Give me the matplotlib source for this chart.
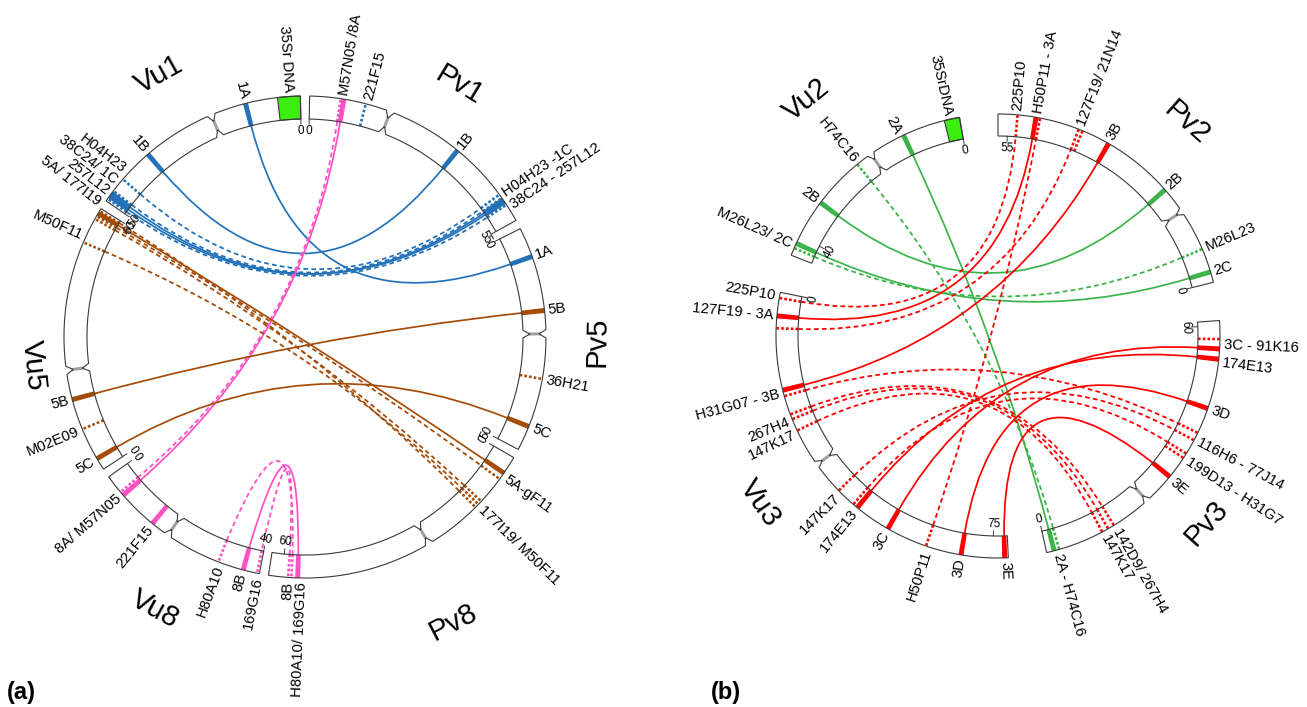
import numpy as np
import matplotlib.pyplot as plt
from matplotlib.path import Path
from matplotlib.patches import PathPatch, Polygon

plt.rcParams['font.family'] = ['Liberation Sans', 'DejaVu Sans']

# ---------------- panel (a) ----------------
chroms_a = ['Pv1', 'Pv5', 'Pv8', 'Vu8', 'Vu5', 'Vu1']
lengths_a = [55, 50, 63, 40, 60, 50]
centromeres_a = [18, 23.8, 26.6, 18.2, 23.2, 20]
tick_values_a = [55, 50, 60, 40, 60, 50]
rdna_a = ['Vu1', 0, 5]

# (chrom1, pos1, chrom2, pos2, linkage group, kind)
links_a = [
    ('Vu1', 12.1, 'Pv5', 6.6, '1', 'solid'),
    ('Vu1', 36.3, 'Pv1', 35.0, '1', 'solid'),
    ('Vu1', 44.0, 'Pv1', 48.3, '1', 'dotted'),
    ('Vu1', 47.3, 'Pv1', 49.2, '1', 'dotted'),
    ('Vu1', 48.0, 'Pv1', 50.2, '1', 'solid'),
    ('Vu1', 48.7, 'Pv1', 49.7, '1', 'solid'),
    ('Vu1', 49.4, 'Pv1', 51.0, '1', 'dotted'),
    ('Pv1', 7.5, 'Vu8', 5.1, '8', 'solid'),
    ('Pv1', 6.8, 'Vu8', 4.2, '8', 'dotted'),
    ('Pv8', 56.6, 'Vu8', 36.4, '8', 'solid'),
    ('Pv8', 58.0, 'Vu8', 30.7, '8', 'dotted'),
    ('Pv8', 58.7, 'Vu8', 39.5, '8', 'dotted'),
    ('Vu5', 16.7, 'Pv5', 18.7, '5', 'solid'),
    ('Vu5', 2.7, 'Pv5', 44.5, '5', 'solid'),
    ('Vu5', 58.8, 'Pv8', 4.0, '5', 'solid'),
    ('Vu5', 58.1, 'Pv8', 5.6, '5', 'dotted'),
    ('Vu5', 57.4, 'Pv8', 11.9, '5', 'dotted'),
    ('Vu5', 51.7, 'Pv8', 12.8, '5', 'dotted'),
    ('Vu5', 59.4, 'Pv8', 13.7, '5', 'dotted'),
]
marks_a = [
    ('Pv1', 12.4, '1', 'dotted'),
    ('Pv5', 33.7, '5', 'dotted'),
    ('Vu5', 9.9, '5', 'dotted'),
    ('Vu8', 14.0, '8', 'solid'),
]
labels_a = [
    ('Pv1', 7.5, 'M57N05 /8A'), ('Pv1', 12.7, '221F15'), ('Pv1', 35.0, '1B'),
    ('Pv1', 50.2, 'H04H23 -1C\n38C24 - 257L12'),
    ('Pv5', 6.6, '1A'), ('Pv5', 18.7, '5B'), ('Pv5', 33.7, '36H21'), ('Pv5', 44.5, '5C'),
    ('Pv8', 4.8, '5A-gF11'), ('Pv8', 13.0, '177I19/ M50F11'),
    ('Pv8', 57.2, '8B\nH80A10/ 169G16'),
    ('Vu8', 5.0, '8A/ M57N05'), ('Vu8', 14.2, '221F15'), ('Vu8', 31.3, 'H80A10'),
    ('Vu8', 36.4, '8B'), ('Vu8', 39.8, '169G16'),
    ('Vu5', 2.7, '5C'), ('Vu5', 9.9, 'M02E09'), ('Vu5', 16.7, '5B'), ('Vu5', 52.7, 'M50F11'),
    ('Vu1', 2.5, '35Sr DNA'), ('Vu1', 12.1, '1A'), ('Vu1', 36.3, '1B'),
    ('Vu1', 46.8, 'H04H23\n38C24/ 1C\n257L12\n5A/ 177I19'),
]

# ---------------- panel (b) ----------------
chroms_b = ['Pv2', 'Pv3', 'Vu3', 'Vu2']
lengths_b = [57, 61, 78, 44]
centromeres_b = [15.1, 22.1, 35, 18.7]
tick_values_b = [55, 60, 75, 40]
rdna_b = ['Vu2', 0, 3]

links_b = [
    ('Vu2', 11.4, 'Pv3', 1.5, '2', 'solid'),
    ('Vu2', 22.0, 'Pv3', 2.5, '2', 'dotted'),
    ('Vu2', 32.3, 'Pv2', 20.4, '2', 'solid'),
    ('Vu2', 41.5, 'Pv2', 2.1, '2', 'solid'),
    ('Vu2', 42.5, 'Pv2', 6.8, '2', 'dotted'),
    ('Vu3', 1.1, 'Pv2', 53.2, '3', 'dotted'),
    ('Vu3', 4.6, 'Pv2', 49.6, '3', 'solid'),
    ('Vu3', 7.0, 'Pv2', 41.0, '3', 'dotted'),
    ('Vu3', 19.1, 'Pv2', 34.6, '3', 'solid'),
    ('Vu3', 61.8, 'Pv2', 48.8, '3', 'dotted'),
    ('Vu3', 20.3, 'Pv3', 38.6, '3', 'dotted'),
    ('Vu3', 24.0, 'Pv3', 14.1, '3', 'dotted'),
    ('Vu3', 25.0, 'Pv3', 12.8, '3', 'dotted'),
    ('Vu3', 27.4, 'Pv3', 11.5, '3', 'dotted'),
    ('Vu3', 41.6, 'Pv3', 37.0, '3', 'dotted'),
    ('Vu3', 45.5, 'Pv3', 34.0, '3', 'dotted'),
    ('Vu3', 46.5, 'Pv3', 53.5, '3', 'solid'),
    ('Vu3', 53.7, 'Pv3', 55.5, '3', 'solid'),
    ('Vu3', 68.8, 'Pv3', 43.7, '3', 'solid'),
    ('Vu3', 77.3, 'Pv3', 28.5, '3', 'solid'),
]
marks_b = [
    ('Pv2', 40.2, '3', 'dotted'),
    ('Pv3', 57.4, '3', 'dotted'),
    ('Pv3', 33.0, '3', 'dotted'),
]
labels_b = [
    ('Pv2', 53.4, '225P10'), ('Pv2', 49.3, 'H50P11 - 3A'), ('Pv2', 40.8, '127F19/ 21N14'),
    ('Pv2', 34.8, '3B'), ('Pv2', 20.4, '2B'), ('Pv2', 6.8, 'M26L23'), ('Pv2', 2.1, '2C'),
    ('Pv3', 56.3, '3C - 91K16'), ('Pv3', 52.8, '174E13'), ('Pv3', 43.7, '3D'),
    ('Pv3', 37.2, '116H6 - 77J14'), ('Pv3', 33.0, '199D13 - H31G7'), ('Pv3', 28.2, '3E'),
    ('Pv3', 12.8, '142D9/ 267H4\n147K17'), ('Pv3', 2.0, '2A - H74C16'),
    ('Vu3', 0.9, '225P10'), ('Vu3', 4.6, '127F19 - 3A'), ('Vu3', 19.6, 'H31G07 - 3B'),
    ('Vu3', 25.3, '267H4'), ('Vu3', 27.9, '147K17'), ('Vu3', 42.3, '147K17'),
    ('Vu3', 46.5, '174E13'), ('Vu3', 53.7, '3C'), ('Vu3', 62.3, 'H50P11'),
    ('Vu3', 68.8, '3D'), ('Vu3', 77.5, '3E'),
    ('Vu2', 2.0, '35SrDNA'), ('Vu2', 12.3, '2A'), ('Vu2', 22.0, 'H74C16'),
    ('Vu2', 32.3, '2B'), ('Vu2', 42.0, 'M26L23/ 2C'),
]

colors = {'1': '#2372b8', '5': '#a44d0b', '8': '#ff50c4', '2': '#3cb44a', '3': '#ff0000'}
rdna_color = '#3bee10'
edge_color = '#3a3a3a'

layout_a = dict(cx=305, cy=337, r_out=241, width=23, gap=2.2, start=1.1, band=1.2,
                reverse=[False, False, False, True, False, True],
                name_pos=[(31.4, 295), (91.0, 292), (152.5, 322), (208.8, 311), (264.0, 273), (331.0, 300)],
                tag='(a)', tag_xy=(7, 692))
layout_b = dict(cx=998, cy=336, r_out=222, width=22, gap=10, start=0.0, band=1.3,
                reverse=[True, True, True, True],
                name_pos=[(41.6, 285), (131.8, 280), (234.9, 291), (321.0, 304)],
                tag='(b)', tag_xy=(711, 692))


def tangent_rotation(a):
    r = (-a + 180) % 360 - 180
    if r > 90:
        r -= 180
    elif r < -90:
        r += 180
    return r


def draw_panel(ax, chroms, lengths, cens, ticks, rdna, links, marks, labels, lay):
    cx, cy = lay['cx'], lay['cy']
    r_out = lay['r_out']
    r_in = r_out - lay['width']
    k = (360 - len(chroms) * lay['gap']) / sum(lengths)

    starts = {}
    a = lay['start']
    for name, L in zip(chroms, lengths):
        starts[name] = a
        a += L * k + lay['gap']
    idx = {c: i for i, c in enumerate(chroms)}

    def ang(c, p):
        i = idx[c]
        if lay['reverse'][i]:
            return starts[c] + (lengths[i] - p) * k
        return starts[c] + p * k

    def xy(a, r):
        t = np.radians(a)
        return (cx + r * np.sin(t), cy - r * np.cos(t))

    def arc(a0, a1, r):
        m = max(2, int(abs(a1 - a0) * 2) + 2)
        return [xy(t, r) for t in np.linspace(a0, a1, m)]

    def sector(a0, a1, fc, z, ec='none'):
        pts = arc(a0, a1, r_out) + arc(a1, a0, r_in)
        ax.add_patch(Polygon(pts, closed=True, fc=fc, ec=ec, lw=0.8, zorder=z))

    # chromosome boxes
    for c, L, cen in zip(chroms, lengths, cens):
        a0 = starts[c]
        a1 = a0 + L * k
        ac = ang(c, cen)
        d = 1.0
        pinch = 0.3 * lay['width']
        pts = (arc(a0, ac - d, r_out) + [xy(ac, r_out - pinch)] + arc(ac + d, a1, r_out)
               + arc(a1, ac + d, r_in) + [xy(ac, r_in + pinch)] + arc(ac - d, a0, r_in))
        ax.add_patch(Polygon(pts, closed=True, fc='white', ec='none', zorder=2))
        ax.add_patch(Polygon(pts, closed=True, fc='none', ec=edge_color, lw=0.8, zorder=4))
        p1, p2 = xy(ac, r_in + pinch), xy(ac, r_out - pinch)
        ax.plot([p1[0], p2[0]], [p1[1], p2[1]], color='#a0a0a0', lw=2.2, zorder=3)

    # 35S rDNA block
    c, p0, p1 = rdna
    sector(min(ang(c, p0), ang(c, p1)), max(ang(c, p0), ang(c, p1)), rdna_color, 3, ec=edge_color)

    def draw_mark(c, p, grp, kind):
        a = ang(c, p)
        col = colors[grp]
        if kind == 'solid':
            sector(a - lay['band'] / 2, a + lay['band'] / 2, col, 3)
        else:
            q1, q2 = xy(a, r_in), xy(a, r_out)
            ax.plot([q1[0], q2[0]], [q1[1], q2[1]], color=col, lw=1.9,
                    linestyle=(0, (1, 0.8)), zorder=3)

    # links (quadratic bezier through the centre) and their end marks
    for c1, p1, c2, p2, grp, kind in links:
        a1, a2 = ang(c1, p1), ang(c2, p2)
        span = abs((a2 - a1 + 180) % 360 - 180)
        mid = a1 + ((a2 - a1 + 180) % 360 - 180) / 2
        ctrl = xy(mid, r_in * 0.25 * max(0.0, 1 - span / 60))
        verts = [xy(a1, r_in), ctrl, xy(a2, r_in)]
        path = Path(verts, [Path.MOVETO, Path.CURVE3, Path.CURVE3])
        ls = '-' if kind == 'solid' else (0, (2.6, 1.8))
        lw = 1.25 if kind == 'solid' else 1.3
        ax.add_patch(PathPatch(path, fc='none', ec=colors[grp], lw=lw, ls=ls, zorder=1))
        draw_mark(c1, p1, grp, kind)
        draw_mark(c2, p2, grp, kind)

    for c, p, grp, kind in marks:
        draw_mark(c, p, grp, kind)

    # tick marks at chromosome ends
    for c, tv in zip(chroms, ticks):
        for v in (0, tv):
            a = ang(c, v)
            q1, q2 = xy(a, r_in), xy(a, r_in - 5)
            ax.plot([q1[0], q2[0]], [q1[1], q2[1]], color=edge_color, lw=0.7, zorder=4)
            x, y = xy(a, r_in - 12)
            ax.text(x, y, str(v), rotation=tangent_rotation(a), rotation_mode='anchor',
                    ha='center', va='center', fontsize=8.5)

    # marker labels
    for c, p, t in labels:
        a = ang(c, p) % 360
        x, y = xy(a, r_out + 4)
        if a < 180:
            rot, ha = 90 - a, 'left'
        else:
            rot, ha = 270 - a, 'right'
        ax.text(x, y, t, rotation=rot, rotation_mode='anchor', ha=ha, va='center',
                multialignment=ha, fontsize=10.6, linespacing=1.0)

    # chromosome names
    for c, (a, r) in zip(chroms, lay['name_pos']):
        x, y = xy(a, r)
        ax.text(x, y, c, rotation=tangent_rotation(a), rotation_mode='anchor',
                ha='center', va='center', fontsize=21)

    ax.text(lay['tag_xy'][0], lay['tag_xy'][1], lay['tag'], fontsize=17,
            fontweight='bold', ha='left', va='center')


def main():
    fig = plt.figure(figsize=(13.07, 7.07), dpi=100)
    ax = fig.add_axes([0, 0, 1, 1])
    ax.set_xlim(0, 1307)
    ax.set_ylim(707, 0)
    ax.set_aspect('equal')
    ax.axis('off')

    draw_panel(ax, chroms_a, lengths_a, centromeres_a, tick_values_a, rdna_a,
               links_a, marks_a, labels_a, layout_a)
    draw_panel(ax, chroms_b, lengths_b, centromeres_b, tick_values_b, rdna_b,
               links_b, marks_b, labels_b, layout_b)

    fig.savefig('out.png', dpi=100, facecolor='white')
    plt.close(fig)


if __name__ == '__main__':
    main()
